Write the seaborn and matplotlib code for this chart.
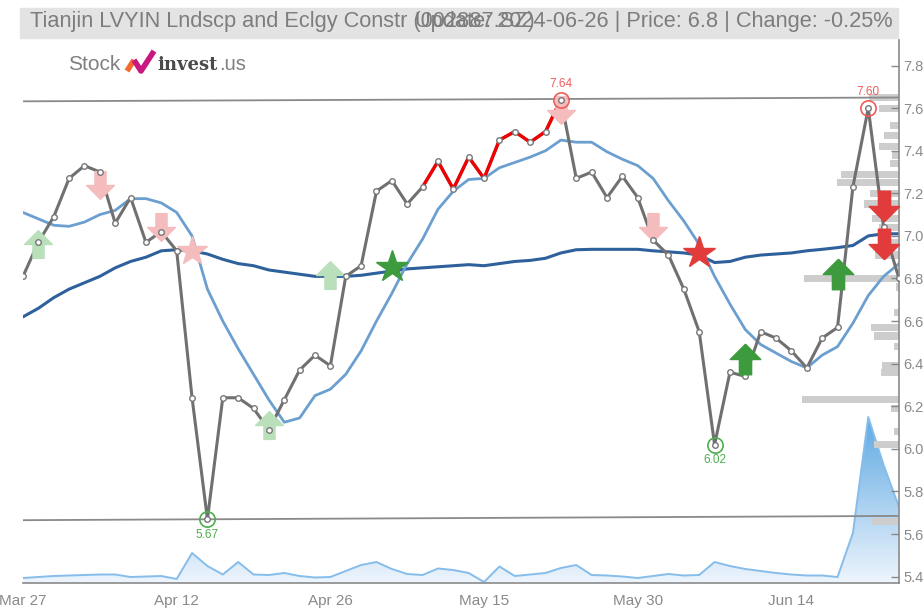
import numpy as np
import matplotlib.pyplot as plt
import seaborn as sns
from matplotlib.path import Path
from matplotlib.lines import Line2D
from matplotlib.patches import Rectangle
from matplotlib.colors import LinearSegmentedColormap

# ── data (index = trading day) ──
tick_days = [0, 10, 20, 30, 40, 50]
tick_labels = ["Mar 27", "Apr 12", "Apr 26", "May 15", "May 30", "Jun 14"]

price = [6.81, 6.97, 7.09, 7.27, 7.33, 7.30, 7.06, 7.18, 6.97, 7.02,
         6.93, 6.24, 5.67, 6.24, 6.24, 6.19, 6.09, 6.23, 6.37, 6.44,
         6.39, 6.81, 6.86, 7.21, 7.26, 7.15, 7.23, 7.35, 7.22, 7.37,
         7.27, 7.45, 7.49, 7.44, 7.49, 7.64, 7.27, 7.30, 7.18, 7.28,
         7.18, 6.98, 6.91, 6.75, 6.55, 6.02, 6.36, 6.34, 6.55, 6.52,
         6.46, 6.38, 6.52, 6.57, 7.23, 7.60, 7.04, 6.80]

ma_fast = [7.11, 7.08, 7.05, 7.045, 7.065, 7.10, 7.12, 7.175, 7.175, 7.155,
           7.11, 7.00, 6.75, 6.60, 6.47, 6.35, 6.23, 6.125, 6.145, 6.25,
           6.28, 6.35, 6.46, 6.60, 6.73, 6.87, 6.985, 7.125, 7.21, 7.265,
           7.27, 7.32, 7.345, 7.37, 7.40, 7.45, 7.44, 7.44, 7.395, 7.36,
           7.33, 7.27, 7.165, 7.07, 6.96, 6.81, 6.68, 6.56, 6.49, 6.45,
           6.41, 6.38, 6.44, 6.48, 6.59, 6.72, 6.81, 6.87]

ma_slow = [6.62, 6.66, 6.71, 6.75, 6.78, 6.81, 6.85, 6.88, 6.90, 6.93,
           6.935, 6.93, 6.915, 6.89, 6.87, 6.86, 6.84, 6.83, 6.82, 6.81,
           6.81, 6.81, 6.815, 6.825, 6.835, 6.845, 6.85, 6.855, 6.86, 6.865,
           6.86, 6.87, 6.88, 6.885, 6.895, 6.92, 6.935, 6.937, 6.937, 6.937,
           6.937, 6.93, 6.925, 6.92, 6.91, 6.875, 6.88, 6.90, 6.91, 6.915,
           6.92, 6.93, 6.937, 6.945, 6.955, 7.00, 7.01, 7.01]

volume = [5, 6, 7, 7.5, 8, 8.5, 8.5, 6, 6.5, 7,
          4, 30, 17, 8.5, 21, 8.5, 8, 10, 7, 5.5,
          6, 12, 18, 21, 14, 9, 8, 14.5, 13, 10,
          1, 16.5, 7, 8.5, 10, 15, 18, 8, 7.5, 6.5,
          5, 7, 9, 7.5, 8, 21, 17, 14, 12, 10,
          8.5, 7.5, 7.5, 6, 50, 166, 118, 76]

hot_start, hot_end = 26, 35          # red stretch of the price line

resistance = [7.632, 7.65]
support = [5.665, 5.685]

# price extremes marked with circles
peaks_day = [35, 55]
peaks_val = [7.64, 7.60]
lows_day = [12, 45]
lows_val = [5.67, 6.02]

# signals: day and level
faint_up_day, faint_up_val = [1, 16, 20], [6.96, 6.11, 6.815]
faint_dn_day, faint_dn_val = [5, 9, 35, 41], [7.24, 7.04, 7.59, 7.04]
faint_star_day, faint_star_val = [11], [6.93]
buy_star_day, buy_star_val = [24], [6.855]
sell_star_day, sell_star_val = [44], [6.92]
buy_day, buy_val = [47, 53], [6.42, 6.82]
sell_day, sell_val = [56, 56], [7.14, 6.96]

# volume profile on the right edge
vp_levels = [7.65, 7.60, 7.52, 7.47, 7.42, 7.38, 7.34, 7.29, 7.25, 7.20,
             7.15, 7.08, 7.04, 6.97, 6.91, 6.80, 6.76, 6.64, 6.57, 6.53,
             6.48, 6.39, 6.36, 6.23, 6.19, 6.08, 6.02, 5.66]
vp_sizes = [30, 20, 9, 15, 20, 7, 9, 58, 62, 29,
            35, 27, 20, 12, 24, 95, 3, 5, 28, 25,
            5, 17, 18, 97, 8, 5, 25, 27]

days = np.arange(len(price))

sns.set_style("white")
plt.rcParams["font.family"] = ["Liberation Sans", "DejaVu Sans"]

W, H = 923, 610
fig = plt.figure(figsize=(W / 100, H / 100), dpi=100)
rect = [23 / W, 27 / H, 876 / W, 543 / H]

vol_ax = fig.add_axes(rect, zorder=1)
vp_ax = fig.add_axes(rect, zorder=2)
ax = fig.add_axes(rect, zorder=3)
for a in (vol_ax, vp_ax, ax):
    a.patch.set_visible(False)

# ── volume area with gradient ──
poly = vol_ax.fill_between(days, 0, volume, color="none")
cmap = LinearSegmentedColormap.from_list("vol", ["#eef5fd", "#5ea8e2"])
grad = np.linspace(0, 1, 256).reshape(-1, 1)
im = vol_ax.imshow(grad, extent=[0, len(price) - 1, 0, max(volume)], aspect="auto",
                   cmap=cmap, origin="lower", zorder=1)
im.set_clip_path(poly.get_paths()[0], transform=vol_ax.transData)
sns.lineplot(x=days, y=volume, ax=vol_ax, color="#86bdea", lw=1.4)
vol_ax.set_xlim(0, len(price) - 1)
vol_ax.set_ylim(0, 543)
vol_ax.axis("off")

# ── volume profile bars ──
vp_ax.barh(vp_levels, vp_sizes, height=0.034, color="#cdcdcd", edgecolor="none")
vp_ax.set_xlim(876, 0)
vp_ax.set_ylim(5.370, 7.92)
vp_ax.axis("off")

# ── price panel ──
ax.plot([0, len(price) - 1], resistance, color="#8a8a8a", lw=1.3)
ax.plot([0, len(price) - 1], support, color="#8a8a8a", lw=1.3)

sns.lineplot(x=days, y=ma_slow, ax=ax, color="#2e619c", lw=2.2)
sns.lineplot(x=days, y=ma_fast, ax=ax, color="#6b9fd0", lw=2.0)
sns.lineplot(x=days, y=price, ax=ax, color="#707070", lw=2.2)
sns.lineplot(x=days[hot_start:hot_end + 1], y=price[hot_start:hot_end + 1], ax=ax,
             color="#f00000", lw=2.4)
ax.scatter(days, price, s=16, facecolor="white", edgecolor="#777777", lw=1.0, zorder=6)

up = Path([(0, 0.5), (0.5, 0), (0.2, 0), (0.2, -0.5), (-0.2, -0.5), (-0.2, 0), (-0.5, 0), (0, 0.5)])
down = Path([(x, -y) for x, y in up.vertices])

faint_g, faint_r = "#b9dfbb", "#f4bcbc"
green, red = "#3d9b3d", "#e23b3b"
ax.plot(faint_up_day, faint_up_val, ls="none", marker=up, ms=20, color=faint_g, zorder=4)
ax.plot(faint_dn_day, faint_dn_val, ls="none", marker=down, ms=20, color=faint_r, zorder=4)
ax.plot(faint_star_day, faint_star_val, ls="none", marker="*", ms=22, color=faint_r, zorder=4)
ax.plot(buy_star_day, buy_star_val, ls="none", marker="*", ms=24, color=green, zorder=7)
ax.plot(sell_star_day, sell_star_val, ls="none", marker="*", ms=24, color=red, zorder=7)
ax.plot(buy_day, buy_val, ls="none", marker=up, ms=22, color=green, zorder=7)
ax.plot(sell_day, sell_val, ls="none", marker=down, ms=22, color=red, zorder=7)

ax.plot(peaks_day, peaks_val, ls="none", marker="o", ms=11, mfc="none", mec="#ef5b5b", mew=1.2, zorder=8)
ax.plot(lows_day, lows_val, ls="none", marker="o", ms=11, mfc="none", mec="#4cae4c", mew=1.2, zorder=8)
for d, v in zip(peaks_day, peaks_val):
    ax.annotate(f"{v:.2f}", (d, v), xytext=(0, 7), textcoords="offset points",
                ha="center", va="bottom", fontsize=8.5, color="#ef5b5b")
for d, v in zip(lows_day, lows_val):
    ax.annotate(f"{v:.2f}", (d, v), xytext=(0, -7), textcoords="offset points",
                ha="center", va="top", fontsize=8.5, color="#4cae4c")

ax.set_xlim(0, len(price) - 1)
ax.set_ylim(5.370, 7.92)
ax.set_xticks(tick_days, tick_labels)
ax.set_yticks([5.4, 5.6, 5.8, 6.0, 6.2, 6.4, 6.6, 6.8, 7.0, 7.2, 7.4, 7.6, 7.8])
ax.yaxis.tick_right()
ax.tick_params(axis="y", direction="in", length=6, width=1, color="#888888",
               labelcolor="#8a8a8a", labelsize=10.5, pad=3)
ax.tick_params(axis="x", direction="out", length=5, width=1, color="#888888",
               labelcolor="#8a8a8a", labelsize=11, pad=3)
ax.set_yticklabels([f"{t:.1f}" for t in ax.get_yticks()])
for side in ("left", "top"):
    ax.spines[side].set_visible(False)
for side in ("right", "bottom"):
    ax.spines[side].set_color("#8a8a8a")
    ax.spines[side].set_linewidth(1.2)
ax.set_xlabel("")
ax.set_ylabel("")

# ── header band and logo ──
fig.add_artist(Rectangle((20 / W, (H - 38) / H), 878 / W, 30 / H,
                         transform=fig.transFigure, color="#e3e3e3", zorder=0))
fig.text(30 / W, (H - 22) / H, "Tianjin LVYIN Lndscp and Eclgy Constr (002887.SZ)",
         ha="left", va="center", fontsize=15.7, color="#7d7d7d")
fig.text(893 / W, (H - 22) / H, "Update: 2024-06-26 | Price: 6.8 | Change: -0.25%",
         ha="right", va="center", fontsize=15.7, color="#7d7d7d")

fig.text(68 / W, (H - 65) / H, "Stock", ha="left", va="center", fontsize=15, color="#808080")
fig.add_artist(Line2D(np.array([127, 134]) / W, (H - np.array([71, 60])) / H, lw=4,
                      color="#f26a2e", transform=fig.transFigure, solid_capstyle="butt"))
fig.add_artist(Line2D(np.array([134, 141, 154]) / W, (H - np.array([60, 71, 51])) / H, lw=4,
                      color="#c8177f", transform=fig.transFigure, solid_capstyle="butt"))
fig.text(157 / W, (H - 65) / H, "invest", ha="left", va="center", fontsize=13,
         color="#4a4a4a", weight="bold", family=["DejaVu Serif"])
fig.text(219 / W, (H - 65) / H, ".us", ha="left", va="center", fontsize=14.5, color="#808080")

fig.savefig("out.png", dpi=100)
